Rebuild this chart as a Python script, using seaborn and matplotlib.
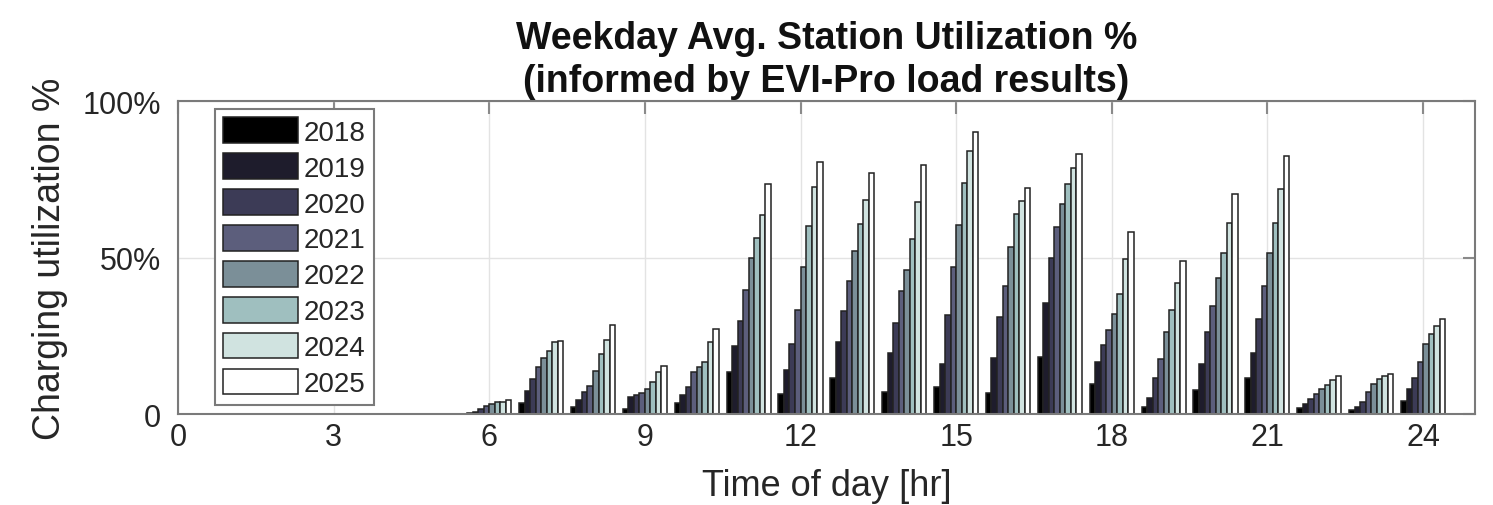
import matplotlib
matplotlib.use("Agg")
import matplotlib.pyplot as plt
import seaborn as sns
import pandas as pd

# ---- data ----
hours = [6, 7, 8, 9, 10, 11, 12, 13, 14, 15, 16, 17, 18, 19, 20, 21, 22, 23, 24]
years = ["2018", "2019", "2020", "2021", "2022", "2023", "2024", "2025"]
u2018 = [0.2, 3.5, 2.3, 1.6, 3.5, 13.5, 6.4, 11.4, 7.1, 8.5, 6.6, 18.1, 9.6, 2.1, 7.8, 11.4, 1.8, 1.4, 4.3]
u2019 = [0.8, 7.4, 4.6, 5.3, 6.2, 21.6, 14.0, 22.9, 19.5, 16.0, 17.8, 35.6, 16.7, 5.0, 16.0, 19.4, 3.2, 2.1, 8.0]
u2020 = [1.6, 11.2, 7.1, 6.2, 8.7, 29.8, 22.3, 33.0, 29.0, 31.7, 31.1, 50.0, 22.0, 11.4, 26.1, 30.3, 4.8, 3.7, 11.4]
u2021 = [2.5, 14.9, 9.0, 6.7, 13.3, 39.6, 33.3, 42.6, 39.4, 47.1, 41.0, 59.6, 26.9, 17.6, 34.6, 41.0, 6.4, 6.9, 16.7]
u2022 = [3.3, 17.8, 13.8, 8.0, 14.9, 49.8, 47.1, 52.1, 46.0, 60.4, 53.2, 67.0, 31.9, 26.3, 43.3, 51.6, 8.0, 9.6, 22.3]
u2023 = [3.8, 20.2, 19.1, 10.3, 16.7, 56.2, 60.1, 60.6, 55.9, 73.7, 63.8, 73.6, 38.3, 33.3, 51.3, 60.9, 9.3, 11.2, 25.5]
u2024 = [4.0, 22.9, 23.7, 13.3, 23.1, 63.6, 72.6, 68.3, 67.8, 84.0, 68.1, 78.7, 49.5, 41.8, 61.0, 72.0, 10.9, 12.2, 28.2]
u2025 = [4.6, 23.4, 28.4, 15.4, 27.3, 73.6, 80.5, 77.1, 79.5, 90.1, 72.3, 83.0, 58.2, 48.9, 70.2, 82.4, 12.0, 12.8, 30.3]
series = [u2018, u2019, u2020, u2021, u2022, u2023, u2024, u2025]
colors = ["#000000", "#1e1c2c", "#3c3b56", "#5c5e7c", "#7b8f98", "#9fbfbf", "#d0e3e0", "#ffffff"]
x_ticks = [0, 3, 6, 9, 12, 15, 18, 21, 24]
y_ticks = [0, 50, 100]
y_ticklabels = ["0", "50%", "100%"]

rows = []
for yr, vals in zip(years, series):
    for h, v in zip(hours, vals):
        rows.append({"hour": h, "year": yr, "util": v})
df = pd.DataFrame(rows)

sns.set_style("white")
plt.rcParams["font.family"] = ["Liberation Sans", "DejaVu Sans"]

fig = plt.figure(figsize=(14.93, 5.06), dpi=100)
ax = fig.add_axes([0.1192, 0.1798, 0.8687, 0.6186])

sns.barplot(data=df, x="hour", y="util", hue="year", hue_order=years,
            palette=colors, native_scale=True, width=0.85, dodge=True,
            edgecolor="#222222", linewidth=1.1, saturation=1, errorbar=None, ax=ax)

ax.set_xlim(0, 25)
ax.set_ylim(0, 100)
ax.set_xticks(x_ticks)
ax.set_xticklabels([str(t) for t in x_ticks])
ax.set_yticks(y_ticks)
ax.set_yticklabels(y_ticklabels)
ax.grid(True, color="#e3e3e3", linewidth=1.0)
ax.set_axisbelow(True)
for s in ax.spines.values():
    s.set_visible(True)
    s.set_color("#7a7a7a")
    s.set_linewidth(1.5)
ax.tick_params(axis="both", direction="in", length=9, width=1.5, color="#8a8a8a",
               labelsize=22, labelcolor="#262626", top=True, right=True)
ax.tick_params(axis="y", pad=12)
ax.tick_params(axis="x", pad=6)

ax.set_xlabel("Time of day [hr]", fontsize=26, color="#262626")
ax.xaxis.set_label_coords(0.5, -0.172)
ax.set_ylabel("Charging utilization %", fontsize=27, color="#262626")
ax.yaxis.set_label_coords(-0.085, 0.5)
ax.set_title("Weekday Avg. Station Utilization %\n(informed by EVI-Pro load results)",
             fontsize=27, fontweight="bold", color="#111111", pad=7, linespacing=1.27)

handles, labels = ax.get_legend_handles_labels()
leg = ax.legend(handles, labels, loc="upper left", bbox_to_anchor=(0.0285, 0.974),
                borderaxespad=0, fontsize=20, handlelength=2.7, handleheight=1.05,
                labelspacing=0.27, handletextpad=0.2, borderpad=0.3,
                fancybox=False, framealpha=1, edgecolor="#7a7a7a")
leg.get_frame().set_linewidth(1.5)
for t in leg.get_texts():
    t.set_color("#262626")

fig.savefig("out.png", dpi=100, facecolor="white")
